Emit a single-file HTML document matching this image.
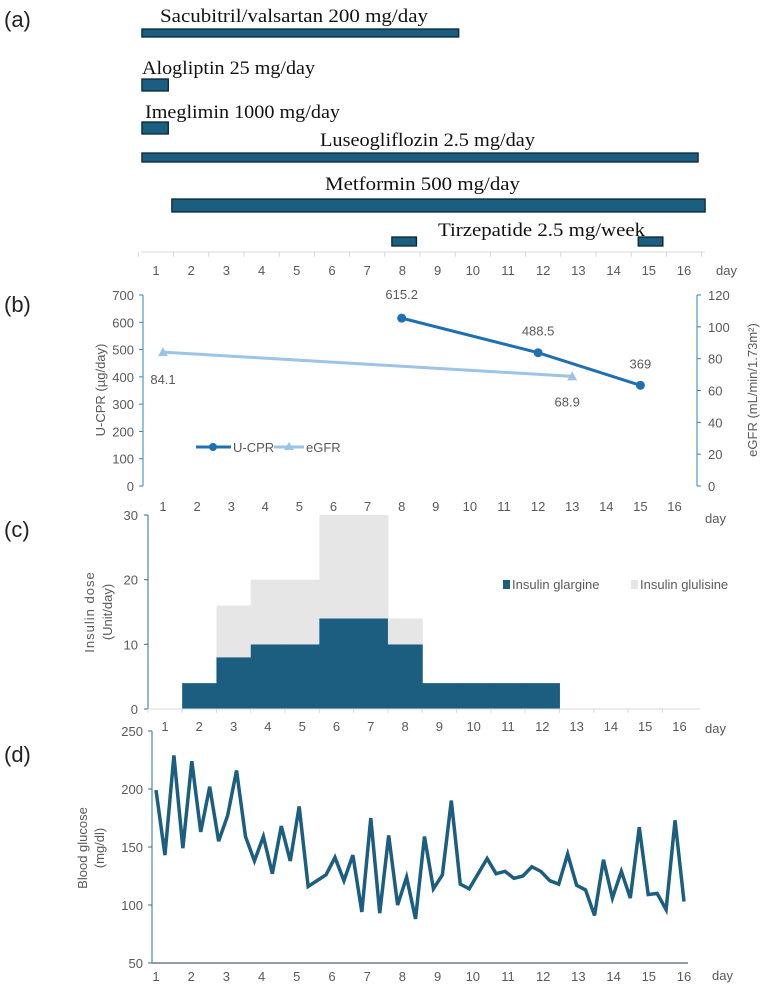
<!DOCTYPE html>
<html><head><meta charset="utf-8"><style>
body{margin:0;background:#fff}
svg{display:block;font-family:"Liberation Sans",sans-serif}
.t{fill:#595959;font-size:13px}
.s{font-family:"Liberation Serif",serif;font-size:19px;fill:#111}
.p{font-size:22px;fill:#222}
</style></head><body>
<svg id="c" width="765" height="992" viewBox="0 0 765 992">
<text class="p" x="4" y="27">(a)</text>
<text class="p" x="4" y="312">(b)</text>
<text class="p" x="4" y="537">(c)</text>
<text class="p" x="4" y="762">(d)</text>
<g id="ga"></g>
<g id="gb"></g>
<g id="gc"></g>
<g id="gd"></g>
</svg>
<script>
// Panel (a)
const drugNames=["Sacubitril/valsartan 200 mg/day","Alogliptin 25 mg/day","Imeglimin 1000 mg/day","Luseogliflozin 2.5 mg/day","Metformin 500 mg/day","Tirzepatide 2.5 mg/week"];
const drugStart=[[0.6],[0.6],[0.6],[0.6],[1.45],[7.7,14.7]];
const drugEndFix=[[9.6],[1.35],[1.35],[16.4],[16.6],[8.4,15.4]];
// Panel (b)
const ucprDays=[8,12,15], ucprVals=[615.2,488.5,369];
const egfrDays=[1,13], egfrVals=[84.1,68.9];
const ucprTicks=[0,100,200,300,400,500,600,700], egfrTicks=[0,20,40,60,80,100,120];
// Panel (c)
const insDays=[2,3,4,5,6,7,8,9,10,11,12];
const glargine=[4,8,10,10,14,14,10,4,4,4,4];
const glulisine=[0,8,10,10,16,16,4,0,0,0,0];
const insTicks=[0,10,20,30];
// Panel (d)
const glucose=[199,143,229,149,224,163,202,155,177,216,159,138,159,127,168,138,185,116,121,126,141,121,143,94,175,93,160,100,124,88,159,114,126,190,118,114,127,140,127,129,123,125,133,129,121,118,144,117,113,91,139,106,129,106,167,109,110,96,173,103];
const gluTicks=[50,100,150,200,250];
const days=[1,2,3,4,5,6,7,8,9,10,11,12,13,14,15,16];

const NS="http://www.w3.org/2000/svg";
function mk(p,tag,attrs,txt){const e=document.createElementNS(NS,tag);for(const k in attrs)e.setAttribute(k,attrs[k]);if(txt!==undefined)e.textContent=txt;p.appendChild(e);return e;}
const BLUE="#1b5e80";

// ---- (a)
const ga=document.getElementById('ga');
const xa=d=>156+(d-1)*35.2;
const barY=[[29,8],[79,12],[122,12],[153,9],[199,13],[237,9]];
const lblPos=[[160,22],[142,74],[145,118],[320,146],[325,190],[438,236]];
const lblW=[268,173,195,215,195,207];
drugNames.forEach((n,i)=>{
  const t=mk(ga,'text',{class:'s',x:lblPos[i][0],y:lblPos[i][1],textLength:lblW[i],lengthAdjust:'spacingAndGlyphs'},n);
  
  
  drugStart[i].forEach((s,j)=>{
    const e=drugEndFix[i][j];
    const r=mk(ga,'rect',{x:xa(s),y:barY[i][0],width:xa(e)-xa(s),height:barY[i][1],fill:BLUE,stroke:'#0b2533','stroke-width':1.3});
    
    
  });
});
mk(ga,'line',{x1:141,x2:705,y1:252,y2:252,stroke:'#d9d9d9'});
days.forEach(d=>{
  mk(ga,'line',{x1:xa(d-0.5),x2:xa(d-0.5),y1:252,y2:257,stroke:'#d9d9d9'});
  const t=mk(ga,'text',{class:'t',x:xa(d),y:275,'text-anchor':'middle'},d);
  
  
});
mk(ga,'line',{x1:xa(16.5),x2:xa(16.5),y1:252,y2:257,stroke:'#d9d9d9'});
mk(ga,'text',{class:'t',x:716,y:275},'day');

// ---- (b)
const gb=document.getElementById('gb');
const xb=d=>163+(d-1)*34.1;
const yb=v=>486-v*(191/700);
const yb2=v=>486-v*(191/120);
mk(gb,'line',{x1:143,x2:143,y1:295,y2:486,stroke:'#2e86b8'});
mk(gb,'line',{x1:697,x2:697,y1:295,y2:486,stroke:'#2e86b8'});
ucprTicks.forEach(v=>{mk(gb,'line',{x1:139,x2:143,y1:yb(v),y2:yb(v),stroke:'#2e86b8'});
  const t=mk(gb,'text',{class:'t',x:134,y:yb(v)+5,'text-anchor':'end'},v);
  });
egfrTicks.forEach(v=>{mk(gb,'line',{x1:697,x2:701,y1:yb2(v),y2:yb2(v),stroke:'#2e86b8'});
  const t=mk(gb,'text',{class:'t',x:708,y:yb2(v)+5},v);
  });
days.forEach(d=>{const t=mk(gb,'text',{class:'t',x:xb(d),y:511,'text-anchor':'middle'},d);
  });
mk(gb,'text',{class:'t',x:0,y:0,transform:'translate(105,390) rotate(-90)','text-anchor':'middle'},'U-CPR (µg/day)');
mk(gb,'text',{class:'t',x:0,y:0,transform:'translate(757,390) rotate(-90)','text-anchor':'middle'},'eGFR (mL/min/1.73m²)');
const egP=egfrDays.map((d,i)=>xb(d)+','+yb2(egfrVals[i])).join(' ');
const eg=mk(gb,'polyline',{points:egP,fill:'none',stroke:'#9dc3e6','stroke-width':3});

egfrDays.forEach((d,i)=>{const x=xb(d),y=yb2(egfrVals[i]);
  mk(gb,'polygon',{points:`${x},${y-5} ${x-5},${y+4} ${x+5},${y+4}`,fill:'#9dc3e6'});
  mk(gb,'text',{class:'t',x:x+(i==0?0:-5),y:y+(i==0?32:30),'text-anchor':'middle'},egfrVals[i]);});
const ucP=ucprDays.map((d,i)=>xb(d)+','+yb(ucprVals[i])).join(' ');
const uc=mk(gb,'polyline',{points:ucP,fill:'none',stroke:'#1f6fb4','stroke-width':3});

ucprDays.forEach((d,i)=>{const x=xb(d),y=yb(ucprVals[i]);
  mk(gb,'circle',{cx:x,cy:y,r:4.5,fill:'#1f6fb4'});
  mk(gb,'text',{class:'t',x:x,y:y-(i==0?19:17),'text-anchor':'middle'},ucprVals[i]);});
mk(gb,'line',{x1:196,x2:231,y1:447,y2:447,stroke:'#1f6fb4','stroke-width':3});
mk(gb,'circle',{cx:213,cy:447,r:4,fill:'#1f6fb4'});
mk(gb,'text',{class:'t',x:233,y:452,'font-size':'12',},'U-CPR');
mk(gb,'line',{x1:274,x2:304,y1:447,y2:447,stroke:'#9dc3e6','stroke-width':3});
mk(gb,'polygon',{points:'289,442 284,450 294,450',fill:'#9dc3e6'});
mk(gb,'text',{class:'t',x:306,y:452,'font-size':'12',},'eGFR');
mk(gb,'text',{class:'t',x:705,y:523},'day');

// ---- (c)
const gc=document.getElementById('gc');
const xc=d=>165+(d-1)*34.3;
const yc=v=>709-v*(194/30);
insDays.forEach((d,i)=>{
  const x0=xc(d-0.5),w=34.3;
  const r=mk(gc,'rect',{x:x0,y:yc(glargine[i]),width:w+0.5,height:yc(0)-yc(glargine[i]),fill:'#1b5e80'});
  
  if(glulisine[i]>0){
    const r2=mk(gc,'rect',{x:x0,y:yc(glargine[i]+glulisine[i]),width:w+0.5,height:yc(glargine[i])-yc(glargine[i]+glulisine[i]),fill:'#e6e6e6'});
    
  }
});
mk(gc,'line',{x1:148,x2:148,y1:515,y2:709,stroke:'#2e6f8e'});
mk(gc,'line',{x1:148,x2:700,y1:709,y2:709,stroke:'#d9d9d9'});
insTicks.forEach(v=>{mk(gc,'line',{x1:144,x2:148,y1:yc(v),y2:yc(v),stroke:'#2e6f8e'});
  const t=mk(gc,'text',{class:'t',x:138,y:yc(v)+5,'text-anchor':'end'},v);
  });
days.forEach(d=>{mk(gc,'line',{x1:xc(d-0.5),x2:xc(d-0.5),y1:709,y2:713,stroke:'#d9d9d9'});
  const t=mk(gc,'text',{class:'t',x:xc(d),y:731,'text-anchor':'middle'},d);
  });
mk(gc,'text',{class:'t',x:0,y:0,transform:'translate(94,612) rotate(-90)','text-anchor':'middle','letter-spacing':'1'},'Insulin dose');
mk(gc,'text',{class:'t',x:0,y:0,transform:'translate(112,612) rotate(-90)','text-anchor':'middle'},'(Unit/day)');
mk(gc,'rect',{x:503,y:580,width:7,height:9,fill:'#1b5e80'});
mk(gc,'text',{class:'t',x:512,y:589,},'Insulin glargine');
mk(gc,'rect',{x:631,y:580,width:7,height:9,fill:'#e6e6e6'});
mk(gc,'text',{class:'t',x:640,y:589,},'Insulin glulisine');
mk(gc,'text',{class:'t',x:705,y:733},'day');

// ---- (d)
const gd=document.getElementById('gd');
const xd=d=>156+(d-1)*35.2;
const yd=v=>963-(v-50)*(232/200);
mk(gd,'line',{x1:152,x2:152,y1:731,y2:963,stroke:'#2e6f8e'});
mk(gd,'line',{x1:152,x2:688,y1:963,y2:963,stroke:'#6f7f88','stroke-width':1.5});
gluTicks.forEach(v=>{mk(gd,'line',{x1:148,x2:152,y1:yd(v),y2:yd(v),stroke:'#2e6f8e'});
  const t=mk(gd,'text',{class:'t',x:143,y:yd(v)+5,'text-anchor':'end'},v);
  });
days.forEach(d=>{const t=mk(gd,'text',{class:'t',x:xd(d),y:981,'text-anchor':'middle'},d);
  });
mk(gd,'text',{class:'t',x:712,y:980},'day');
mk(gd,'text',{class:'t',x:0,y:0,transform:'translate(87,848) rotate(-90)','text-anchor':'middle'},'Blood glucose');
mk(gd,'text',{class:'t',x:0,y:0,transform:'translate(104,848) rotate(-90)','text-anchor':'middle'},'(mg/dl)');
const n=glucose.length;
const gp=glucose.map((v,i)=>xd(1+i*15/(n-1))+','+yd(v)).join(' ');
const gl=mk(gd,'polyline',{points:gp,fill:'none',stroke:'#1b5e80','stroke-width':3.5,'stroke-linejoin':'miter'});

</script>
</body></html>
